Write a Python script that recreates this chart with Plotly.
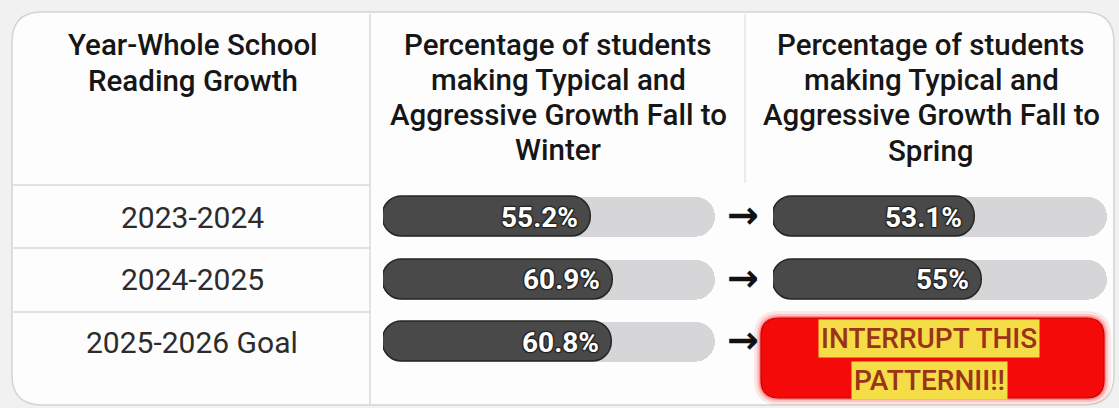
import plotly.graph_objects as go

W, H = 1119, 408

# ---------------- data ----------------
rows = ["2023-2024", "2024-2025", "2025-2026 Goal"]
fall_to_winter = [55.2, 60.9, 60.8]
fall_to_spring = [53.1, 55.0, None]
winter_labels = ["55.2%", "60.9%", "60.8%"]
spring_labels = ["53.1%", "55%", None]
header_col1 = ["Year-Whole School", "Reading Growth"]
header_col2 = ["Percentage of students", "making Typical and",
               "Aggressive Growth Fall to", "Winter"]
header_col3 = ["Percentage of students", "making Typical and",
               "Aggressive Growth Fall to", "Spring"]
callout_lines = ["INTERRUPT THIS", "PATTERNII!!"]
SCALE_MAX = 88  # value at the right end of the grey track

# ---------------- helpers ----------------
def px(x):
    return x / W

def py(y):
    return 1 - y / H

def rrect(x0, y0, x1, y1, r):
    pts = [
        f"M {px(x0 + r)},{py(y0)}",
        f"L {px(x1 - r)},{py(y0)}",
        f"Q {px(x1)},{py(y0)} {px(x1)},{py(y0 + r)}",
        f"L {px(x1)},{py(y1 - r)}",
        f"Q {px(x1)},{py(y1)} {px(x1 - r)},{py(y1)}",
        f"L {px(x0 + r)},{py(y1)}",
        f"Q {px(x0)},{py(y1)} {px(x0)},{py(y1 - r)}",
        f"L {px(x0)},{py(y0 + r)}",
        f"Q {px(x0)},{py(y0)} {px(x0 + r)},{py(y0)}",
        "Z",
    ]
    return " ".join(pts)

fig = go.Figure()

BAR_W = 0.64

def pill(values, xaxis, color, edge=None):
    cats = [c for c, v in zip(rows, values) if v is not None]
    vals = [v for v in values if v is not None]
    line = dict(color=edge, width=1.5) if edge else dict(width=0)
    fig.add_trace(go.Bar(orientation="h", y=cats, x=vals, base=[0] * len(vals), width=BAR_W,
                         xaxis=xaxis, yaxis="y", hoverinfo="skip", showlegend=False,
                         marker=dict(color=color, cornerradius="50%", line=line)))

TRACK = "#d6d6d9"
DARK = "#494949"
pill([SCALE_MAX for _ in fall_to_winter], "x", TRACK)
pill([SCALE_MAX if v is not None else None for v in fall_to_spring], "x2", TRACK)
pill(fall_to_winter, "x", DARK, "#262626")
pill(fall_to_spring, "x2", DARK, "#262626")

shapes = []
# card
shapes.append(dict(type="path", xref="paper", yref="paper", path=rrect(12, 12, 1114, 405, 30),
                   fillcolor="#fdfdfd", line=dict(color="#d4d4d4", width=1.5), layer="below"))
# grid lines
line_c = "#d9d9d9"
shapes.append(dict(type="line", xref="paper", yref="paper", x0=px(370), x1=px(370), y0=py(14), y1=py(405),
                   line=dict(color=line_c, width=1.5), layer="below"))
shapes.append(dict(type="line", xref="paper", yref="paper", x0=px(745), x1=px(745), y0=py(14), y1=py(183),
                   line=dict(color="#e4e4e4", width=1.5), layer="below"))
for yy in (185, 248, 312):
    shapes.append(dict(type="line", xref="paper", yref="paper", x0=px(13), x1=px(370), y0=py(yy), y1=py(yy),
                       line=dict(color=line_c, width=1.5), layer="below"))
# callout glow + box
for grow, op in ((7, 0.10), (4, 0.18), (2, 0.30)):
    shapes.append(dict(type="path", xref="paper", yref="paper",
                       path=rrect(761 - grow, 318 - grow, 1104 + grow, 398 + grow, 18 + grow),
                       fillcolor=f"rgba(255,20,20,{op})", line=dict(width=0), layer="above"))
shapes.append(dict(type="path", xref="paper", yref="paper", path=rrect(761, 318, 1104, 398, 18),
                   fillcolor="#f50a0a", line=dict(color="#c80000", width=1.2), layer="above"))

ann = []
FONT = "Roboto, Arial, sans-serif"
# headers
for lines, cx, ys in ((header_col1, 193, (45, 81)),
                      (header_col2, 558, (45, 80, 115, 150)),
                      (header_col3, 931, (45, 80, 115, 151))):
    for t, yy in zip(lines, ys):
        ann.append(dict(text=t, x=px(cx), y=py(yy), xref="paper", yref="paper", showarrow=False,
                        xanchor="center", yanchor="middle",
                        font=dict(family=FONT, size=29.5, color="#161616", weight=500)))
# row labels
for r in rows:
    ann.append(dict(text=r, x=px(192), y=r, xref="paper", yref="y", showarrow=False,
                    xanchor="center", yanchor="middle",
                    font=dict(family=FONT, size=30, color="#2c2c2c")))
# arrows
for r in rows:
    ann.append(dict(text="→", x=px(743), y=r, xref="paper", yref="y", showarrow=False,
                    xanchor="center", yanchor="middle", yshift=2,
                    font=dict(family="DejaVu Sans, sans-serif", size=38, color="#111111", weight="bold")))
# value labels
for vals, labs, xa in ((fall_to_winter, winter_labels, "x"), (fall_to_spring, spring_labels, "x2")):
    for r, v, l in zip(rows, vals, labs):
        if v is None:
            continue
        ann.append(dict(text=l, x=v, y=r, xref=xa, yref="y", showarrow=False,
                        xanchor="right", yanchor="middle", xshift=-11,
                        font=dict(family=FONT, size=28, color="#ffffff", weight="bold",
                                  shadow="1px 1px 1px #222, -1px -1px 1px #222, 1px -1px 1px #222, -1px 1px 1px #222")))
# callout text
for t, yy in zip(callout_lines, (338, 380)):
    ann.append(dict(text=t, x=px(929), y=py(yy), xref="paper", yref="paper", showarrow=False,
                    xanchor="center", yanchor="middle", bgcolor="#f4dd47", borderpad=2,
                    font=dict(family=FONT, size=28, color="#9a3318", weight=500)))

yd0 = py(373.25)
yd1 = py(185.75)
fig.update_layout(
    width=W, height=H,
    margin=dict(l=0, r=0, t=0, b=0),
    paper_bgcolor="#f1f1f1", plot_bgcolor="rgba(0,0,0,0)",
    barmode="overlay", bargap=0,
    showlegend=False,
    xaxis=dict(domain=[px(383), px(715)], range=[0, SCALE_MAX], visible=False, fixedrange=True),
    xaxis2=dict(domain=[px(773), px(1107)], range=[0, SCALE_MAX], visible=False, anchor="y", fixedrange=True),
    yaxis=dict(domain=[yd0, yd1], type="category", categoryorder="array", categoryarray=rows,
               range=[2.5, -0.5], visible=False, fixedrange=True),
    shapes=shapes,
    annotations=ann,
)

fig.write_html("out.html", config={"displayModeBar": False},
               post_script="document.body.style.margin='0px';")
